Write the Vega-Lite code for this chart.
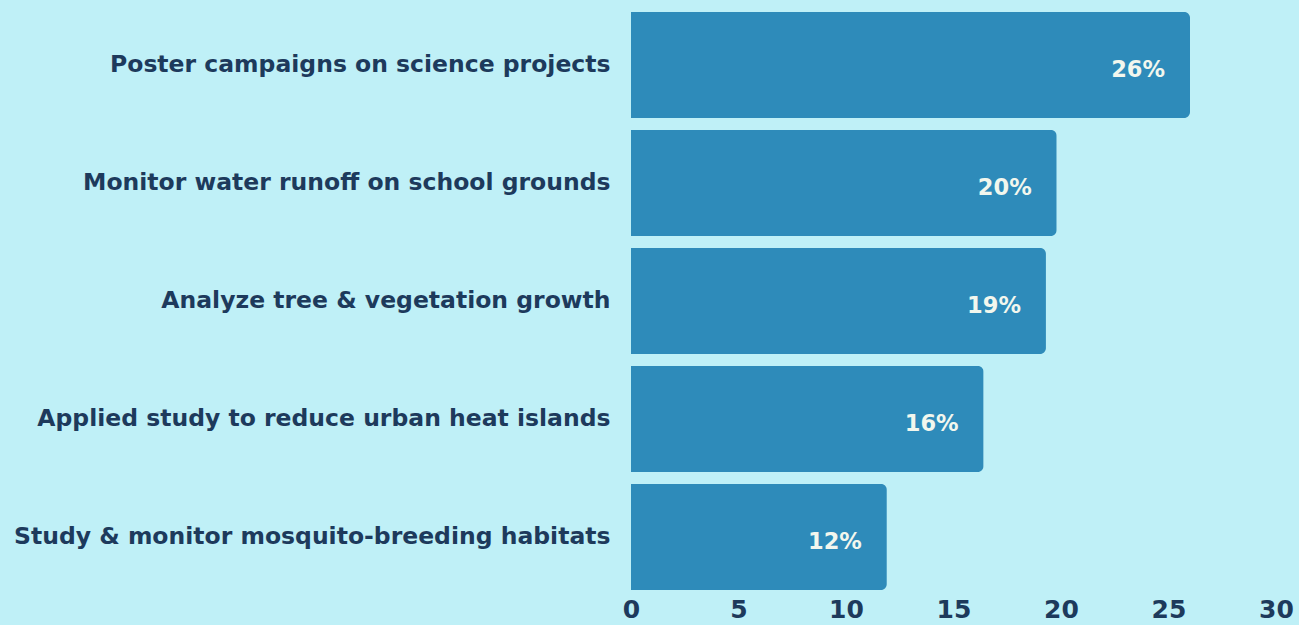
{
  "$schema": "https://vega.github.io/schema/vega-lite/v6.json",
  "width": 645,
  "height": 590,
  "autosize": "none",
  "padding": {"left": 631, "top": 6, "right": 23, "bottom": 29},
  "background": "#bff0f7",
  "config": {"view": {"stroke": null}, "font": "DejaVu Sans"},
  "data": {
    "values": [
      {"activity": "Poster campaigns on science projects", "pct": 26.0, "label": "26%"},
      {"activity": "Monitor water runoff on school grounds", "pct": 19.8, "label": "20%"},
      {"activity": "Analyze tree & vegetation growth", "pct": 19.3, "label": "19%"},
      {"activity": "Applied study to reduce urban heat islands", "pct": 16.4, "label": "16%"},
      {"activity": "Study & monitor mosquito-breeding habitats", "pct": 11.9, "label": "12%"}
    ]
  },
  "encoding": {
    "y": {
      "field": "activity", "type": "nominal", "sort": null,
      "scale": {"paddingInner": 0.1, "paddingOuter": 0.05},
      "axis": {"title": null, "ticks": false, "domain": false, "labelPadding": 21, "labelFontSize": 23.5, "labelFontWeight": "bold", "labelColor": "#1d3a5c", "labelFont": "DejaVu Sans", "labelLimit": 700}
    },
    "x": {
      "field": "pct", "type": "quantitative",
      "scale": {"domain": [0, 30], "nice": false},
      "axis": {"title": null, "values": [0, 5, 10, 15, 20, 25, 30], "grid": false, "ticks": false, "domain": false, "labelPadding": 1, "labelFontSize": 25, "labelFontWeight": "bold", "labelColor": "#1d3a5c", "labelFlush": false, "labelFont": "DejaVu Sans"}
    }
  },
  "layer": [
    {"mark": {"type": "bar", "color": "#2e8bba", "cornerRadiusEnd": 6}},
    {"mark": {"type": "text", "align": "right", "baseline": "middle", "dx": -25, "dy": 5, "fontSize": 22.5, "fontWeight": "bold", "color": "#f2f7ee", "font": "DejaVu Sans"},
     "encoding": {"text": {"field": "label"}}}
  ]
}
